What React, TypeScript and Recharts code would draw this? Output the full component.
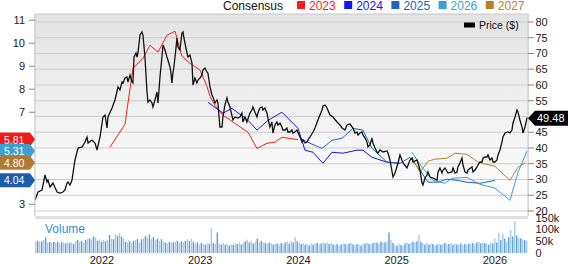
import React from 'react';
import {
  ComposedChart,
  Line,
  Bar,
  Cell,
  XAxis,
  YAxis,
  CartesianGrid,
  ReferenceDot,
  ReferenceArea,
  ReferenceLine,
} from 'recharts';

const FONT = '"Liberation Sans", Arial, Helvetica, sans-serif';

// ---------- axes / categories ----------
const X_MIN = 2021.318;
const X_MAX = 2026.336;
const yearTicks = [2022, 2023, 2024, 2025, 2026];
const priceTicks = [20, 25, 30, 35, 40, 45, 55, 60, 65, 70, 75, 80];
const priceGrid = [20, 25, 30, 35, 40, 45, 50, 55, 60, 65, 70, 75, 80];
const priceDomain = [18.41, 82.54];
const epsTicks = [3, 7, 8, 9, 10, 11];
const epsDomain = [2.49, 11.27];
const volumeTicks = [0, 50, 100, 150];
const volumeDomain = [0, 156.8];

// ---------- price ($), [decimal year, price] ----------
const priceSeries: [number, number][] = [
  [2021.318, 23.49], [2021.349, 26.03], [2021.389, 26.67], [2021.42, 31.43], [2021.44, 29.21],
  [2021.45, 29.84], [2021.471, 27.62], [2021.501, 28.89], [2021.542, 26.03], [2021.572, 25.71],
  [2021.603, 26.03], [2021.623, 26.67], [2021.644, 28.89], [2021.654, 29.21], [2021.674, 28.25],
  [2021.695, 29.84], [2021.705, 32.06], [2021.725, 36.19], [2021.756, 40.0], [2021.797, 40.32],
  [2021.827, 41.9], [2021.847, 43.49], [2021.858, 41.59], [2021.898, 42.54], [2021.929, 41.59],
  [2021.949, 39.37], [2021.98, 43.49], [2022.01, 49.84], [2022.031, 50.48], [2022.051, 46.35],
  [2022.061, 49.84], [2022.102, 52.7], [2022.132, 55.24], [2022.163, 59.37], [2022.183, 58.41],
  [2022.203, 60.95], [2022.214, 60.63], [2022.234, 62.22], [2022.254, 62.54], [2022.264, 60.95],
  [2022.285, 63.17], [2022.305, 60.95], [2022.315, 60.63], [2022.326, 68.89], [2022.346, 70.16],
  [2022.356, 68.89], [2022.366, 70.16], [2022.387, 75.87], [2022.407, 76.83], [2022.417, 75.87],
  [2022.437, 68.89], [2022.458, 57.78], [2022.468, 54.6], [2022.488, 55.24], [2022.509, 54.29],
  [2022.519, 53.02], [2022.539, 55.24], [2022.56, 57.78], [2022.57, 54.29], [2022.59, 62.54],
  [2022.61, 68.89], [2022.621, 72.7], [2022.641, 71.11], [2022.661, 68.89], [2022.671, 67.94],
  [2022.692, 65.71], [2022.702, 63.81], [2022.712, 60.63], [2022.722, 63.81], [2022.732, 65.71],
  [2022.743, 68.89], [2022.753, 71.75], [2022.763, 74.92], [2022.773, 72.06], [2022.793, 71.11],
  [2022.814, 76.51], [2022.824, 76.83], [2022.834, 74.92], [2022.865, 70.16], [2022.875, 68.89],
  [2022.895, 69.52], [2022.916, 66.98], [2022.926, 60.0], [2022.946, 62.22], [2022.966, 60.63],
  [2022.977, 61.59], [2022.997, 62.22], [2023.017, 63.17], [2023.027, 64.76], [2023.048, 65.4],
  [2023.068, 64.13], [2023.078, 63.81], [2023.099, 59.37], [2023.119, 56.83], [2023.129, 56.19],
  [2023.15, 54.29], [2023.17, 55.24], [2023.18, 54.29], [2023.2, 46.67], [2023.221, 46.67],
  [2023.231, 49.84], [2023.251, 53.65], [2023.272, 55.87], [2023.282, 54.6], [2023.302, 53.02],
  [2023.333, 48.89], [2023.353, 49.84], [2023.384, 49.52], [2023.404, 49.84], [2023.424, 51.11],
  [2023.434, 48.25], [2023.455, 49.84], [2023.475, 48.25], [2023.506, 51.11], [2023.526, 52.06],
  [2023.536, 53.02], [2023.577, 49.84], [2023.587, 51.11], [2023.607, 52.7], [2023.628, 53.02],
  [2023.638, 52.06], [2023.658, 52.7], [2023.679, 51.11], [2023.689, 49.52], [2023.709, 46.67],
  [2023.729, 48.25], [2023.74, 44.76], [2023.76, 47.3], [2023.78, 48.25], [2023.79, 47.3],
  [2023.811, 47.94], [2023.831, 46.67], [2023.841, 45.71], [2023.862, 45.71], [2023.882, 46.35],
  [2023.892, 45.08], [2023.913, 45.08], [2023.933, 45.71], [2023.943, 44.76], [2023.963, 45.08],
  [2023.984, 45.71], [2024.015, 43.49], [2024.036, 41.9], [2024.046, 42.54], [2024.066, 41.59],
  [2024.087, 41.9], [2024.097, 42.54], [2024.117, 43.49], [2024.148, 45.08], [2024.168, 46.35],
  [2024.198, 48.89], [2024.239, 52.06], [2024.249, 53.33], [2024.27, 53.65], [2024.29, 52.7],
  [2024.321, 50.48], [2024.351, 49.84], [2024.392, 48.25], [2024.422, 47.3], [2024.443, 46.35],
  [2024.473, 45.71], [2024.494, 47.3], [2024.524, 47.62], [2024.555, 46.35], [2024.575, 44.76],
  [2024.595, 45.08], [2024.606, 44.13], [2024.626, 44.76], [2024.646, 45.08], [2024.656, 44.13],
  [2024.677, 43.17], [2024.697, 41.9], [2024.707, 40.32], [2024.728, 40.95], [2024.748, 43.17],
  [2024.758, 41.59], [2024.779, 40.0], [2024.799, 38.73], [2024.809, 38.41], [2024.83, 39.37],
  [2024.86, 38.73], [2024.901, 39.05], [2024.911, 38.41], [2024.931, 36.19], [2024.962, 30.79],
  [2024.982, 32.06], [2024.992, 33.02], [2025.013, 35.24], [2025.033, 37.78], [2025.064, 35.24],
  [2025.104, 33.65], [2025.135, 36.19], [2025.155, 36.83], [2025.165, 35.56], [2025.206, 36.19],
  [2025.216, 35.24], [2025.237, 33.02], [2025.257, 28.89], [2025.267, 28.25], [2025.288, 30.48],
  [2025.308, 31.43], [2025.318, 32.38], [2025.338, 30.79], [2025.369, 30.48], [2025.41, 29.84],
  [2025.42, 32.38], [2025.44, 33.65], [2025.461, 32.06], [2025.471, 33.02], [2025.491, 33.65],
  [2025.522, 32.06], [2025.562, 32.38], [2025.573, 33.65], [2025.593, 32.06], [2025.613, 32.38],
  [2025.623, 33.97], [2025.644, 35.24], [2025.664, 36.83], [2025.674, 34.6], [2025.695, 32.38],
  [2025.715, 32.06], [2025.725, 33.02], [2025.766, 33.97], [2025.776, 32.38], [2025.796, 33.02],
  [2025.817, 33.97], [2025.827, 34.6], [2025.847, 35.56], [2025.868, 35.56], [2025.878, 36.83],
  [2025.898, 37.14], [2025.919, 37.14], [2025.929, 37.78], [2025.949, 36.19], [2025.969, 36.83],
  [2025.98, 35.56], [2026.0, 35.56], [2026.02, 36.19], [2026.031, 37.78], [2026.051, 39.37],
  [2026.071, 41.9], [2026.081, 43.49], [2026.102, 44.76], [2026.132, 45.08], [2026.153, 44.76],
  [2026.173, 45.71], [2026.183, 47.94], [2026.204, 49.84], [2026.224, 52.06], [2026.234, 51.43],
  [2026.254, 48.89], [2026.275, 46.67], [2026.285, 44.76], [2026.305, 46.67], [2026.326, 49.52],
  [2026.336, 49.48],
];
const lastPrice = 49.48;

// ---------- consensus EPS by fiscal year, [decimal year, EPS] ----------
const eps2023: [number, number][] = [
  [2022.081, 5.48], [2022.234, 6.48], [2022.315, 8.91], [2022.417, 9.35], [2022.488, 9.91],
  [2022.57, 9.61], [2022.661, 10.35], [2022.743, 10.52], [2022.814, 9.43], [2022.895, 9.13],
  [2022.997, 8.83], [2023.068, 8.13], [2023.099, 7.7], [2023.15, 7.3], [2023.231, 6.87],
  [2023.486, 6.13], [2023.577, 5.43], [2023.679, 5.65], [2023.76, 5.7], [2023.831, 5.91],
  [2023.995, 5.81],
];
const eps2024: [number, number][] = [
  [2023.079, 7.43], [2023.232, 6.96], [2023.323, 7.17], [2023.486, 6.65], [2023.578, 6.22],
  [2023.69, 6.65], [2023.832, 7.0], [2023.995, 6.3], [2024.066, 5.35], [2024.148, 5.26],
  [2024.249, 4.78], [2024.341, 5.26], [2024.453, 5.22], [2024.595, 5.35], [2024.656, 5.35],
  [2024.748, 5.04], [2024.901, 4.83], [2025.033, 4.78],
];
const eps2025: [number, number][] = [
  [2024.015, 5.87], [2024.117, 5.65], [2024.239, 5.43], [2024.341, 5.78], [2024.443, 5.87],
  [2024.555, 6.3], [2024.656, 6.22], [2024.748, 5.43], [2024.901, 4.83], [2025.033, 4.78],
  [2025.135, 5.04], [2025.237, 4.48], [2025.318, 3.96], [2025.42, 3.96], [2025.511, 4.09],
  [2025.613, 4.04], [2025.715, 3.96], [2025.847, 3.91], [2026.0, 4.04],
];
const eps2026: [number, number][] = [
  [2025.155, 5.26], [2025.257, 4.61], [2025.369, 4.04], [2025.491, 3.91], [2025.562, 4.13],
  [2025.715, 4.17], [2025.847, 3.87], [2026.0, 3.7], [2026.153, 3.17], [2026.234, 4.39],
  [2026.326, 5.31],
];
const eps2027: [number, number][] = [
  [2025.155, 5.04], [2025.237, 4.39], [2025.318, 4.87], [2025.389, 4.96], [2025.511, 5.0],
  [2025.593, 5.22], [2025.715, 5.17], [2025.827, 4.83], [2026.0, 4.65], [2026.153, 4.04],
  [2026.234, 4.61], [2026.305, 4.8],
];

// ---------- weekly volume (thousands) ----------
const volumeK = [
  50, 52, 48, 50, 55, 66, 45, 47, 42, 48, 45, 48, 40, 47, 44, 40, 46, 42, 44, 38,
  50, 55, 48, 52, 45, 55, 60, 62, 58, 70, 65, 52, 58, 48, 55, 50, 55, 76, 60, 58,
  80, 72, 85, 70, 62, 48, 45, 50, 42, 52, 55, 60, 45, 58, 62, 72, 65, 78, 60, 68,
  55, 60, 52, 58, 50, 45, 40, 48, 42, 46, 48, 52, 44, 50, 46, 52, 58, 50, 60, 48,
  40, 44, 36, 42, 38, 35, 40, 38, 104, 42, 38, 87, 40, 36, 42, 35, 38, 32, 36, 34,
  40, 38, 44, 36, 42, 50, 56, 45, 52, 40, 48, 60, 45, 52, 44, 42, 38, 45, 40, 36,
  38, 40, 35, 42, 38, 45, 48, 40, 52, 44, 66, 50, 45, 38, 42, 35, 38, 32, 40, 36,
  38, 42, 36, 40, 44, 40, 45, 38, 42, 36, 35, 38, 32, 36, 40, 38, 35, 40, 42, 36,
  34, 38, 36, 32, 38, 40, 44, 38, 36, 42, 42, 45, 40, 48, 44, 45, 50, 87, 55, 42,
  35, 30, 38, 34, 32, 40, 45, 38, 42, 48, 45, 50, 78, 48, 42, 36, 45, 35, 40, 38,
  32, 36, 40, 35, 38, 42, 36, 38, 42, 35, 40, 36, 36, 40, 34, 38, 35, 40, 38, 42,
  36, 44, 48, 40, 45, 42, 38, 35, 45, 40, 62, 45, 87, 55, 83, 60, 48, 67, 96, 70,
  133, 75, 65, 62, 58, 55, 52,
];

// ---------- legend ----------
const consensusYears = ['2023', '2024', '2025', '2026', '2027'];
const consensusColors = ['#ff1a1a', '#1414f0', '#2163b8', '#39a0d4', '#b5802f'];
const badgeValues = [
  { value: 5.81, color: '#ef1b1b' },
  { value: 5.31, color: '#3c9fd2' },
  { value: 4.8, color: '#b07a30' },
  { value: 4.04, color: '#1d5cad' },
];

const toPoints = (arr: [number, number][]) => arr.map(([t, v]) => ({ t, v }));
const priceData = toPoints(priceSeries);
const volumeData = volumeK.map((v, i) => ({ i, v }));

const makeEpsBadge = (color: string, text: string) => (props: any) => {
  const { cx, cy } = props;
  if (cx == null || cy == null) return <g />;
  const left = cx - 35;
  return (
    <g>
      <polygon
        points={`${left},${cy - 7} ${cx - 5},${cy - 7} ${cx},${cy} ${cx - 5},${cy + 7} ${left},${cy + 7}`}
        fill={color}
      />
      <text x={left + 4} y={cy + 4} fill="#fff" fontSize={10.5} fontFamily={FONT}>
        {text}
      </text>
    </g>
  );
};

const PriceBadge = (props: any) => {
  const { cx, cy } = props;
  if (cx == null || cy == null) return <g />;
  return (
    <g>
      <polygon
        points={`${cx},${cy} ${cx + 7},${cy - 7.5} ${cx + 41},${cy - 7.5} ${cx + 41},${cy + 7.5} ${cx + 7},${cy + 7.5}`}
        fill="#000"
      />
      <text x={cx + 9} y={cy + 4} fill="#fff" fontSize={11} fontFamily={FONT}>
        {lastPrice.toFixed(2)}
      </text>
    </g>
  );
};

const tickStyle = { fontSize: 11, fill: '#222', fontFamily: FONT };

export default function App() {
  const series = [eps2023, eps2024, eps2025, eps2026, eps2027];
  return (
    <div style={{ position: 'absolute', left: 0, top: 0, width: 568, height: 264, overflow: 'hidden', background: '#fff' }}>
      <svg width={4} height={4} style={{ position: 'absolute', left: 0, top: 0 }}>
        <defs>
          <linearGradient id="panelGrad" x1="0" y1="0" x2="0" y2="1">
            <stop offset="0%" stopColor="#e3e3e3" />
            <stop offset="100%" stopColor="#ffffff" />
          </linearGradient>
        </defs>
      </svg>

      {/* background + price grid */}
      <div style={{ position: 'absolute', left: 0, top: 0 }}>
        <ComposedChart
          width={568}
          height={264}
          data={priceData}
          margin={{ top: 14, right: 40, bottom: 48, left: 35 }}
        >
          <XAxis type="number" dataKey="t" domain={[X_MIN, X_MAX]} allowDataOverflow ticks={yearTicks} interval={0} hide />
          <YAxis type="number" domain={priceDomain} allowDataOverflow ticks={priceGrid} interval={0} hide />
          <ReferenceArea
            x1={X_MIN}
            x2={X_MAX}
            y1={priceDomain[0]}
            y2={priceDomain[1]}
            fill="url(#panelGrad)"
            fillOpacity={1}
            stroke="none"
          />
          <CartesianGrid horizontal={false} stroke="#cdcdcd" />
          {priceGrid.map((v) => (
            <ReferenceLine key={v} y={v} stroke="#cdcdcd" />
          ))}
          <ReferenceLine y={priceDomain[1]} stroke="#c8c8c8" ifOverflow="visible" />
          <Line dataKey="v" stroke="none" dot={false} isAnimationActive={false} />
        </ComposedChart>
      </div>

      {/* volume panel */}
      <div style={{ position: 'absolute', left: 0, top: 0 }}>
        <ComposedChart
          width={568}
          height={264}
          data={volumeData}
          margin={{ top: 216, right: 0, bottom: 11, left: 35 }}
          barCategoryGap={0}
        >
          <XAxis xAxisId="bars" dataKey="i" type="category" hide />
          <XAxis type="number" domain={[X_MIN, X_MAX]} allowDataOverflow ticks={yearTicks} hide />
          <YAxis
            orientation="right"
            width={40}
            domain={volumeDomain}
            allowDataOverflow
            ticks={volumeTicks}
            interval={0}
            tickLine={false}
            axisLine={false}
            tickSize={6}
            tickMargin={1.5}
            tick={tickStyle}
            tickFormatter={(v: number) => (v === 0 ? '0' : `${v}k`)}
          />
          <CartesianGrid horizontal={false} verticalValues={yearTicks} stroke="#cdcdcd" />
          <ReferenceArea
            y1={144}
            y2={156.8}
            fill="#e0e0e0"
            fillOpacity={1}
            stroke="none"
            ifOverflow="visible"
          />
          <Bar xAxisId="bars" dataKey="v" barSize={1.4} isAnimationActive={false}>
            {volumeData.map((d) => (
              <Cell key={d.i} fill={d.i % 2 ? '#5c9dd7' : '#a7caea'} />
            ))}
          </Bar>
        </ComposedChart>
      </div>

      {/* price / consensus panel */}
      <div style={{ position: 'absolute', left: 0, top: 0 }}>
        <ComposedChart
          width={568}
          height={264}
          data={priceData}
          margin={{ top: 14, right: 0, bottom: 0, left: 0 }}
        >
          <XAxis
            type="number"
            dataKey="t"
            domain={[X_MIN, X_MAX]}
            allowDataOverflow
            ticks={yearTicks}
            interval={0}
            height={48}
            tickLine={false}
            axisLine={false}
            tickSize={0}
            tickMargin={40.5}
            tick={tickStyle}
          />
          <YAxis
            yAxisId="eps"
            orientation="left"
            width={35}
            domain={epsDomain}
            allowDataOverflow
            ticks={epsTicks}
            interval={0}
            tickSize={6}
            tickMargin={4}
            tickLine={{ stroke: '#888' }}
            axisLine={{ stroke: '#c8c8c8' }}
            tick={tickStyle}
          />
          <YAxis
            orientation="right"
            width={40}
            domain={priceDomain}
            allowDataOverflow
            ticks={priceTicks}
            interval={0}
            tickSize={6}
            tickMargin={1.5}
            tickLine={{ stroke: '#888' }}
            axisLine={{ stroke: '#c8c8c8' }}
            tick={tickStyle}
          />
          {series.map((s, k) => (
            <Line
              key={consensusYears[k]}
              yAxisId="eps"
              data={toPoints(s)}
              dataKey="v"
              type="linear"
              stroke={consensusColors[k]}
              strokeWidth={1}
              dot={false}
              isAnimationActive={false}
            />
          ))}
          <Line
            dataKey="v"
            type="linear"
            stroke="#111"
            strokeWidth={1.3}
            dot={false}
            isAnimationActive={false}
          />
          {badgeValues.map((b) => (
            <ReferenceDot
              key={b.value}
              yAxisId="eps"
              x={X_MIN}
              y={b.value}
              ifOverflow="visible"
              shape={makeEpsBadge(b.color, b.value.toFixed(2))}
            />
          ))}
          <ReferenceDot x={X_MAX} y={lastPrice} ifOverflow="visible" shape={PriceBadge} />
        </ComposedChart>
      </div>

      {/* legends and labels */}
      <svg
        width={568}
        height={264}
        style={{ position: 'absolute', left: 0, top: 0, pointerEvents: 'none' }}
        fontFamily={FONT}
      >
        <text x={223} y={9.5} fontSize={12} fill="#111">Consensus</text>
        {consensusYears.map((y, k) => (
          <g key={y}>
            <rect x={297 + k * 47.2} y={1} width={8} height={8} fill={consensusColors[k]} />
            <text x={309 + k * 47.2} y={9.5} fontSize={12} fill={consensusColors[k]}>{y}</text>
          </g>
        ))}
        <rect x={464} y={22.5} width={11} height={5} fill="#000" />
        <text x={479} y={28.5} fontSize={10.5} fill="#111">Price ($)</text>
        <text x={45} y={233} fontSize={12} fill="#3a8dd5">Volume</text>
      </svg>
    </div>
  );
}
